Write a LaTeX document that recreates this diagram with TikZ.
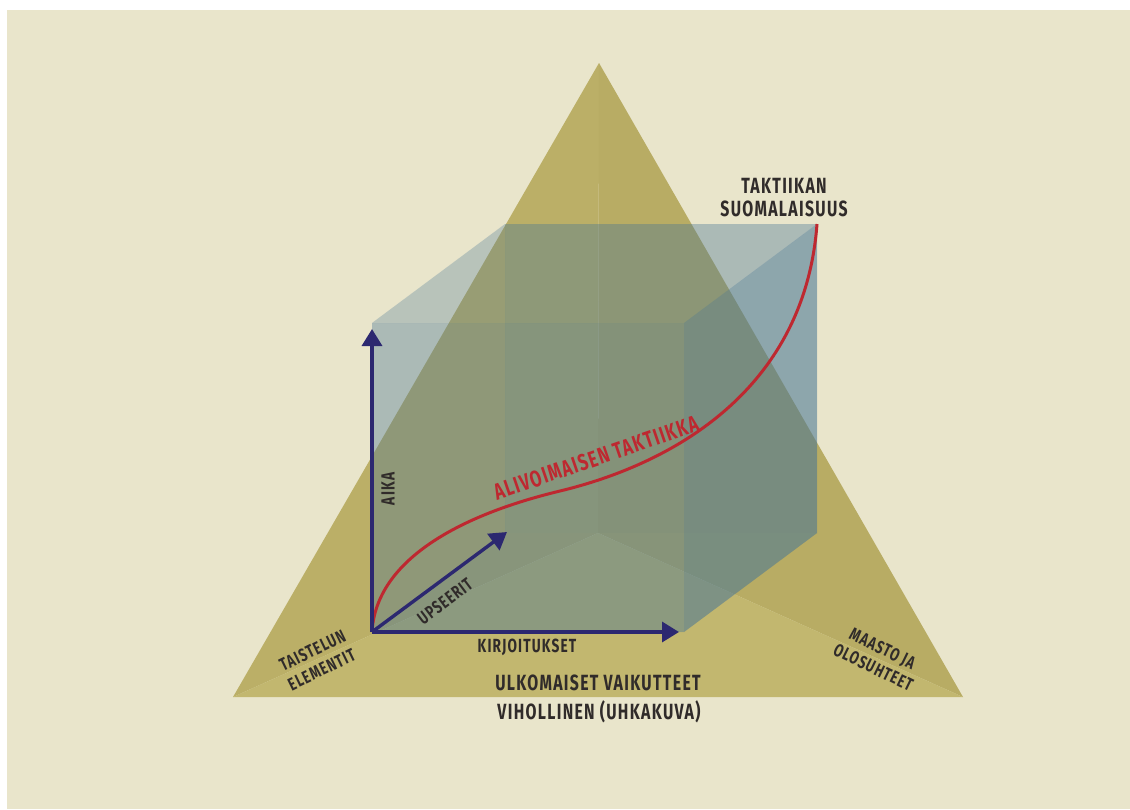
\documentclass[tikz,border=0pt]{standalone}
\usepackage{fontspec}
\setmainfont{Fira Sans}
\newfontfamily\cond[FakeStretch=0.72,LetterSpace=6]{Fira Sans}
\usetikzlibrary{arrows.meta}
\definecolor{bg}{RGB}{233,229,203}
\definecolor{olL}{RGB}{187,175,103}
\definecolor{olR}{RGB}{184,172,100}
\definecolor{olB}{RGB}{194,183,111}
\definecolor{cubeblue}{RGB}{72,118,150}
\definecolor{navy}{RGB}{44,40,112}
\definecolor{curvered}{RGB}{190,40,48}
\definecolor{ink}{RGB}{48,43,42}
\tikzset{
  face/.style={fill=cubeblue, fill opacity=#1, draw=none},
  axisarrow/.style={draw=navy, line width=3.4pt, -{Triangle[length=17pt,width=20pt]}},
  lbl/.style 2 args={text=ink, font=\cond\bfseries\fontsize{#1}{#2}\selectfont, inner sep=0pt, align=center},
}
\begin{document}
\begin{tikzpicture}[x=1pt,y=-1pt]
\useasboundingbox (0,0) rectangle (1130,809);
\fill[white] (0,0) rectangle (1130,809);
\fill[bg] (7,10) rectangle (1130,809);
% pyramid seen from above
\coordinate (apex) at (599,63);
\coordinate (bl) at (233,697);
\coordinate (br) at (963,697);
\coordinate (pc) at (598,533);
\fill[olL] (apex) -- (bl) -- (pc) -- cycle;
\fill[olR] (apex) -- (pc) -- (br) -- cycle;
\fill[olB] (bl) -- (pc) -- (br) -- cycle;
% cube
\coordinate (O) at (372,632);
\coordinate (A) at (684,632);
\coordinate (B) at (684,323);
\coordinate (C) at (372,323);
\coordinate (O2) at (505,533);
\coordinate (A2) at (817,533);
\coordinate (B2) at (817,224);
\coordinate (C2) at (505,224);
\fill[face=0.28] (O2) -- (A2) -- (B2) -- (C2) -- cycle; % back
\fill[face=0.18] (O) -- (O2) -- (C2) -- (C) -- cycle;   % left
\fill[face=0.26] (O) -- (A) -- (A2) -- (O2) -- cycle;   % bottom
\fill[face=0.14] (C) -- (B) -- (B2) -- (C2) -- cycle;   % top
\fill[face=0.40] (A) -- (A2) -- (B2) -- (B) -- cycle;   % right
\fill[face=0.24] (O) -- (A) -- (B) -- (C) -- cycle;     % front
% axes
\coordinate (aikatip) at (372,329);
\coordinate (kirjtip) at (679,632);
\coordinate (upstip) at (507,532);
\draw[curvered, line width=3pt] (O) .. controls (376,560) and (460,515) .. (560,491)
  .. controls (680,462) and (805,385) .. (B2);
\draw[axisarrow] (O) -- (aikatip);
\draw[axisarrow] (O) -- (kirjtip);
\draw[axisarrow] (O) -- (upstip);
% labels
\node[lbl={22}{23}] (takt) at (784,198) {TAKTIIKAN\\SUOMALAISUUS};
\node[lbl={19}{19}, rotate=90] (aika) at (388,489) {AIKA};
\node[lbl={18}{18}, rotate=37] (ups) at (445,601) {UPSEERIT};
\node[lbl={19}{19}] (kirj) at (527,647) {KIRJOITUKSET};
\node[lbl={22}{22}] (ulko) at (598,683) {ULKOMAISET VAIKUTTEET};
\node[lbl={22}{22}] (viho) at (599,712) {VIHOLLINEN (UHKAKUVA)};
\node[lbl={18}{21}, rotate=26] (tais) at (317,660) {TAISTELUN\\ELEMENTIT};
\node[lbl={18}{21}, rotate=-26] (maas) at (878,658) {MAASTO JA\\OLOSUHTEET};
\node[lbl={23}{23}, text=curvered, rotate=19] (alivo) at (596,458) {ALIVOIMAISEN TAKTIIKKA};
\end{tikzpicture}
\end{document}
